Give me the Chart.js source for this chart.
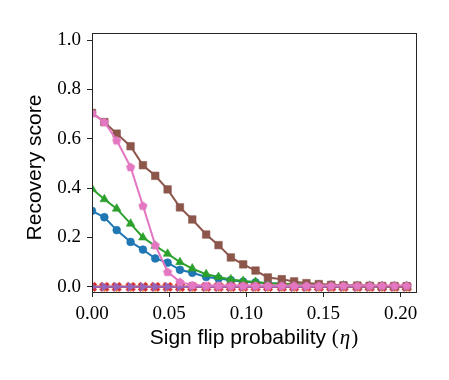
<!DOCTYPE html>
<html>
<head>
<meta charset="utf-8">
<script src="https://cdn.jsdelivr.net/npm/chart.js@4/dist/chart.umd.min.js"></script>
<style>
  html, body { margin: 0; padding: 0; background: #ffffff; }
  #wrap { width: 449px; height: 380px; position: relative; }
</style>
</head>
<body>
<div id="wrap"><canvas id="c" width="449" height="380"></canvas></div>
<script>
// ---- data ----
const eta = [0.000, 0.008, 0.016, 0.025, 0.033, 0.041, 0.049, 0.057, 0.065, 0.074,
             0.082, 0.090, 0.098, 0.106, 0.114, 0.123, 0.131, 0.139, 0.147, 0.155,
             0.163, 0.172, 0.180, 0.188, 0.196, 0.204];
const blueScores   = [0.308, 0.282, 0.230, 0.182, 0.151, 0.115, 0.098, 0.069, 0.057, 0.040,
                      0.034, 0.027, 0.021, 0.018, 0.014, 0.012, 0.010, 0.008, 0.007, 0.006,
                      0.005, 0.004, 0.004, 0.003, 0.003, 0.003];
const orangeScores = [0, 0, 0, 0, 0, 0, 0, 0, 0, 0, 0, 0, 0, 0, 0, 0, 0, 0, 0, 0, 0, 0, 0, 0, 0, 0];
const greenScores  = [0.398, 0.355, 0.317, 0.256, 0.200, 0.166, 0.134, 0.100, 0.074, 0.051,
                      0.040, 0.030, 0.024, 0.020, 0.014, 0.012, 0.010, 0.008, 0.007, 0.006,
                      0.005, 0.004, 0.004, 0.003, 0.003, 0.003];
const redScores    = [0, 0, 0, 0, 0, 0, 0, 0, 0, 0, 0, 0, 0, 0, 0, 0, 0, 0, 0, 0, 0, 0, 0, 0, 0, 0];
const purpleScores = [0, 0, 0, 0, 0, 0, 0, 0, 0, 0, 0, 0, 0, 0, 0, 0, 0, 0, 0, 0, 0, 0, 0, 0, 0, 0];
const brownScores  = [0.705, 0.668, 0.621, 0.570, 0.493, 0.450, 0.395, 0.322, 0.273, 0.212,
                      0.169, 0.119, 0.091, 0.066, 0.038, 0.031, 0.022, 0.015, 0.011, 0.008,
                      0.006, 0.005, 0.004, 0.003, 0.003, 0.002];
const pinkScores   = [0.705, 0.668, 0.594, 0.486, 0.329, 0.169, 0.061, 0.020, 0.007, 0.005,
                      0.005, 0.005, 0.005, 0.005, 0.005, 0.005, 0.005, 0.005, 0.005, 0.005,
                      0.005, 0.005, 0.005, 0.005, 0.005, 0.005];
const xTicks = [0.00, 0.05, 0.10, 0.15, 0.20];
const yTicks = [0.0, 0.2, 0.4, 0.6, 0.8, 1.0];
const xLabel = "Sign flip probability ";
const xLabelSym = "η";
const yLabel = "Recovery score";

// ---- marker images ----
function pentagonMarker(color, r) {
  const s = Math.ceil(2 * r + 2), c = document.createElement('canvas');
  c.width = s; c.height = s;
  const g = c.getContext('2d');
  g.fillStyle = color;
  g.beginPath();
  for (let k = 0; k < 5; k++) {
    const a = -Math.PI / 2 + k * 2 * Math.PI / 5;
    const px = s / 2 + r * Math.cos(a), py = s / 2 + r * Math.sin(a) + r * 0.1;
    if (k === 0) g.moveTo(px, py); else g.lineTo(px, py);
  }
  g.closePath(); g.fill();
  return c;
}
function xMarker(color, r) {
  const s = Math.ceil(2 * r + 2), c = document.createElement('canvas');
  c.width = s; c.height = s;
  const g = c.getContext('2d');
  g.strokeStyle = color; g.lineWidth = r * 0.75; g.lineCap = 'butt';
  const a = r * 0.8, m = s / 2;
  g.beginPath();
  g.moveTo(m - a, m - a); g.lineTo(m + a, m + a);
  g.moveTo(m + a, m - a); g.lineTo(m - a, m + a);
  g.stroke();
  return c;
}

const C = {
  blue: '#1f77b4', orange: '#ff7f0e', green: '#2ca02c', red: '#d62728',
  purple: '#9467bd', brown: '#8c564b', pink: '#e377c2'
};

function pts(arr) { return eta.map((x, i) => ({ x: x, y: arr[i] })); }

const series = [
  { vals: blueScores,   color: C.blue,   style: 'circle',   radius: 3.9, rot: 0 },
  { vals: orangeScores, color: C.orange, style: 'triangle', radius: 5.0, rot: 180 },
  { vals: greenScores,  color: C.green,  style: 'triangle', radius: 5.0, rot: 0 },
  { vals: redScores,    color: C.red,    style: xMarker(C.red, 4.8), radius: 4.8, rot: 0 },
  { vals: purpleScores, color: C.purple, style: 'triangle', radius: 5.0, rot: 90 },
  { vals: brownScores,  color: C.brown,  style: 'rect',     radius: 5.3, rot: 0 },
  { vals: pinkScores,   color: C.pink,   style: pentagonMarker(C.pink, 4.8), radius: 4.8, rot: 0 }
];

const datasets = series.map((s, i) => ({
  data: pts(s.vals),
  borderColor: s.color,
  backgroundColor: s.color,
  borderWidth: 2,
  pointStyle: s.style,
  pointRadius: s.radius,
  pointRotation: s.rot,
  pointBorderWidth: 0.6,
  pointBorderColor: s.color,
  pointBackgroundColor: s.color,
  tension: 0,
  fill: false,
  order: series.length - i
}));

const AXIS = '#262626';

const framePlugin = {
  id: 'frame',
  afterDatasetsDraw(chart) {
    const a = chart.chartArea, g = chart.ctx;
    g.save();
    g.strokeStyle = AXIS; g.lineWidth = 1;
    g.strokeRect(Math.round(a.left) + 0.5, Math.round(a.top) + 0.5,
                 Math.round(a.right - a.left), Math.round(a.bottom - a.top));
    g.restore();
  },
  afterDraw(chart) {
    const a = chart.chartArea, g = chart.ctx;
    g.save();
    g.fillStyle = '#000';
    g.textBaseline = 'middle';
    const sans = '21px "Liberation Sans", "DejaVu Sans", sans-serif';
    const serif = '21px "Liberation Serif", "DejaVu Serif", serif';
    const serifIt = 'italic 21px "Liberation Serif", "DejaVu Serif", serif';
    g.font = sans; const w1 = g.measureText(xLabel).width;
    g.font = serif; const wp = g.measureText('(').width, wq = g.measureText(')').width;
    g.font = serifIt; const we = g.measureText(xLabelSym).width;
    const total = w1 + wp + we + wq + 2;
    let x = (a.left + a.right) / 2 - total / 2;
    const y = 338;
    g.textAlign = 'left';
    g.font = sans; g.fillText(xLabel, x, y); x += w1;
    g.font = serif; g.fillText('(', x, y); x += wp + 1;
    g.font = serifIt; g.fillText(xLabelSym, x, y); x += we + 1;
    g.font = serif; g.fillText(')', x, y);
    // y title
    g.translate(35, (a.top + a.bottom) / 2 + 5);
    g.rotate(-Math.PI / 2);
    g.textAlign = 'center';
    g.font = sans;
    g.fillText(yLabel, 0, 0);
    g.restore();
  }
};

new Chart(document.getElementById('c'), {
  type: 'line',
  data: { datasets: datasets },
  plugins: [framePlugin],
  options: {
    responsive: false,
    animation: false,
    devicePixelRatio: 1,
    layout: { padding: { left: 0, right: 33, top: 33, bottom: 0 } },
    plugins: { legend: { display: false }, tooltip: { enabled: false } },
    scales: {
      x: {
        type: 'linear',
        min: 0, max: 0.21,
        afterBuildTicks(scale) { scale.ticks = xTicks.map(v => ({ value: v })); },
        afterFit(scale) { scale.height = 88; },
        grid: { display: true, drawOnChartArea: false, drawTicks: true, tickLength: 5, color: AXIS, lineWidth: 1 },
        border: { display: true, color: AXIS, width: 1 },
        ticks: {
          color: '#000', padding: 6, maxRotation: 0, autoSkip: false,
          font: { family: '"Liberation Serif", "DejaVu Serif", serif', size: 19 },
          callback: v => Number(v).toFixed(2)
        }
      },
      y: {
        type: 'linear',
        min: -0.021, max: 1.029,
        afterBuildTicks(scale) { scale.ticks = yTicks.map(v => ({ value: v })); },
        afterFit(scale) { scale.width = 92; },
        grid: { display: true, drawOnChartArea: false, drawTicks: true, tickLength: 5, color: AXIS, lineWidth: 1 },
        border: { display: true, color: AXIS, width: 1 },
        ticks: {
          color: '#000', padding: 6, autoSkip: false,
          font: { family: '"Liberation Serif", "DejaVu Serif", serif', size: 19 },
          callback: v => Number(v).toFixed(1)
        }
      }
    }
  }
});
</script>
</body>
</html>
